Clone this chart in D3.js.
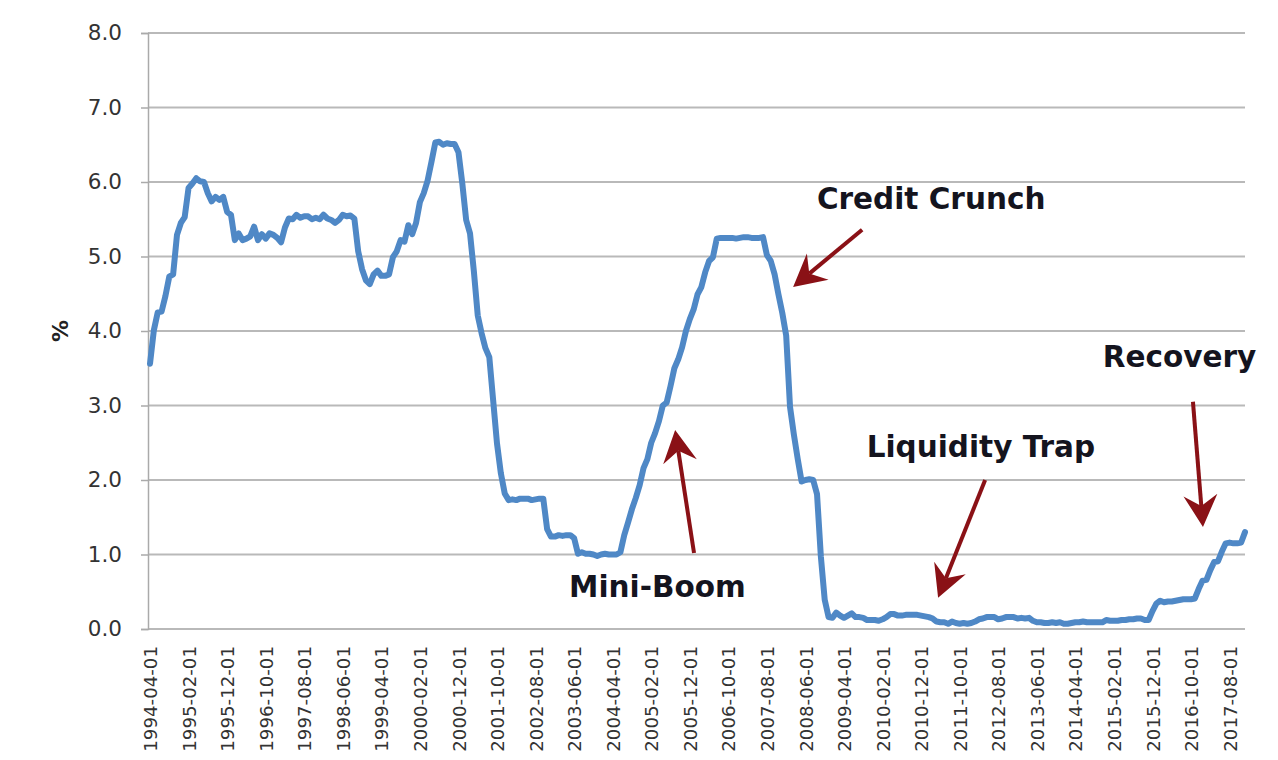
<!DOCTYPE html>
<html><head><meta charset="utf-8">
<script src="https://cdn.jsdelivr.net/npm/d3@7"></script>
<style>body{margin:0;background:#fff}svg{display:block}</style>
</head><body><svg id="c" width="1278" height="760"></svg>
<script>
// Monthly rate (%) from 1994-04 to 2017-12
const startYear = 1994, startMonth = 4;
const r1994 = [3.56,4.01,4.25,4.26,4.47,4.73,4.76,5.29,5.45];
const r1995 = [5.53,5.92,5.98,6.05,6.01,6.00,5.85,5.74,5.80,5.76,5.80,5.60];
const r1996 = [5.56,5.22,5.31,5.22,5.24,5.27,5.40,5.22,5.30,5.24,5.31,5.29];
const r1997 = [5.25,5.19,5.39,5.51,5.50,5.56,5.52,5.54,5.54,5.50,5.52,5.50];
const r1998 = [5.56,5.51,5.49,5.45,5.49,5.56,5.54,5.55,5.51,5.07,4.83,4.68];
const r1999 = [4.63,4.76,4.81,4.74,4.74,4.76,4.99,5.07,5.22,5.20,5.42,5.30];
const r2000 = [5.45,5.73,5.85,6.02,6.27,6.53,6.54,6.50,6.52,6.51,6.51,6.40];
const r2001 = [5.98,5.49,5.31,4.80,4.21,3.97,3.77,3.65,3.07,2.49,2.09,1.82];
const r2002 = [1.73,1.74,1.73,1.75,1.75,1.75,1.73,1.74,1.75,1.75,1.34,1.24];
const r2003 = [1.24,1.26,1.25,1.26,1.26,1.22,1.01,1.03,1.01,1.01,1.00,0.98];
const r2004 = [1.00,1.01,1.00,1.00,1.00,1.03,1.26,1.43,1.61,1.76,1.93,2.16];
const r2005 = [2.28,2.50,2.63,2.79,3.00,3.04,3.26,3.50,3.62,3.78,4.00,4.16];
const r2006 = [4.29,4.49,4.59,4.79,4.94,4.99,5.24,5.25,5.25,5.25,5.25,5.24];
const r2007 = [5.25,5.26,5.26,5.25,5.25,5.25,5.26,5.02,4.94,4.76,4.49,4.24];
const r2008 = [3.94,2.98,2.61,2.28,1.98,2.00,2.01,2.00,1.81,0.97,0.39,0.16];
const r2009 = [0.15,0.22,0.18,0.15,0.18,0.21,0.16,0.16,0.15,0.12,0.12,0.12];
const r2010 = [0.11,0.13,0.16,0.20,0.20,0.18,0.18,0.19,0.19,0.19,0.19,0.18];
const r2011 = [0.17,0.16,0.14,0.10,0.09,0.09,0.07,0.10,0.08,0.07,0.08,0.07];
const r2012 = [0.08,0.10,0.13,0.14,0.16,0.16,0.16,0.13,0.14,0.16,0.16,0.16];
const r2013 = [0.14,0.15,0.14,0.15,0.11,0.09,0.09,0.08,0.08,0.09,0.08,0.09];
const r2014 = [0.07,0.07,0.08,0.09,0.09,0.10,0.09,0.09,0.09,0.09,0.09,0.12];
const r2015 = [0.11,0.11,0.11,0.12,0.12,0.13,0.13,0.14,0.14,0.12,0.12,0.24];
const r2016 = [0.34,0.38,0.36,0.37,0.37,0.38,0.39,0.40,0.40,0.40,0.41,0.54];
const r2017 = [0.65,0.66,0.79,0.90,0.91,1.04,1.15,1.16,1.15,1.15,1.16,1.30];

const yTicks = [0,1,2,3,4,5,6,7,8];
const labelEvery = 10;
const yLabel = "%";

// Annotations in data units (month index, value)
const annoTexts = ["Credit Crunch","Mini-Boom","Liquidity Trap","Recovery"];
const annoTextAt = [[202.6,5.64],[131.6,0.43],[215.5,2.31],[267.0,3.52]];
const arrowTail = [[184.7,5.36],[141.1,1.02],[216.6,2.00],[270.5,3.05]];
const arrowTip  = [[166.8,4.59],[136.2,2.67],[204.4,0.42],[273.1,1.37]];

const rates = [].concat(r1994,r1995,r1996,r1997,r1998,r1999,r2000,r2001,r2002,r2003,r2004,r2005,
  r2006,r2007,r2008,r2009,r2010,r2011,r2012,r2013,r2014,r2015,r2016,r2017);
const months = rates.map((_, i) => {
  const m = startMonth - 1 + i;
  return `${startYear + Math.floor(m / 12)}-${String(m % 12 + 1).padStart(2, "0")}-01`;
});

const svg = d3.select("#c");
const pLeft = 148, pRight = 1245, pTop = 33, pBottom = 629;

const x = d3.scalePoint().domain(months).range([150, 1245]);
const xi = d3.scaleLinear().domain([0, months.length - 1]).range([150, 1245]);
const y = d3.scaleLinear().domain([0, 8]).range([pBottom, pTop]);

// gridlines
svg.append("g").selectAll("line").data(yTicks).join("line")
  .attr("x1", pLeft).attr("x2", pRight)
  .attr("y1", d => y(d)).attr("y2", d => y(d))
  .attr("stroke", "#b9b9b9").attr("stroke-width", 2);

// y axis
const yAxis = svg.append("g").attr("transform", `translate(${pLeft},0)`)
  .call(d3.axisLeft(y).tickValues(yTicks).tickFormat(d3.format(".1f")).tickSize(7).tickPadding(19));
yAxis.select(".domain").attr("stroke", "#aaa").attr("stroke-width", 1.5);
yAxis.selectAll(".tick line").attr("stroke", "#aaa").attr("stroke-width", 1.5);
yAxis.selectAll("text").attr("font-family", "DejaVu Sans").attr("font-size", 21.5).attr("fill", "#333");

svg.append("text").attr("transform", `translate(60,331) rotate(-90)`)
  .attr("text-anchor", "middle").attr("dy", "0.35em")
  .attr("font-family", "DejaVu Sans").attr("font-weight", "bold").attr("font-size", 22)
  .attr("fill", "#222").text(yLabel);

// x axis
const xAxis = svg.append("g").attr("transform", `translate(0,${pBottom})`)
  .call(d3.axisBottom(x).tickValues(months.filter((d, i) => i % labelEvery === 0)).tickSize(0));
xAxis.select(".domain").remove();
xAxis.selectAll("text")
  .attr("transform", "rotate(-90)")
  .attr("text-anchor", "end").attr("x", -17).attr("y", 0).attr("dy", "0.36em")
  .attr("font-family", "DejaVu Sans").attr("font-size", 18.2).attr("fill", "#333");

// line
svg.append("path").datum(rates)
  .attr("fill", "none").attr("stroke", "#4f88c6").attr("stroke-width", 6)
  .attr("stroke-linejoin", "round").attr("stroke-linecap", "round")
  .attr("d", d3.line().x((d, i) => x(months[i])).y(d => y(d)));

// arrows
const arrowColor = "#8a1116";
arrowTail.forEach((t, k) => {
  const x1 = xi(t[0]), y1 = y(t[1]);
  const x2 = xi(arrowTip[k][0]), y2 = y(arrowTip[k][1]);
  const dx = x2 - x1, dy = y2 - y1, L = Math.hypot(dx, dy);
  const ux = dx / L, uy = dy / L, px = -uy, py = ux;
  const hl = 32, hw = 17, notch = 11;
  const bx = x2 - ux * hl, by = y2 - uy * hl;
  svg.append("line").attr("x1", x1).attr("y1", y1)
    .attr("x2", x2 - ux * (hl - notch)).attr("y2", y2 - uy * (hl - notch))
    .attr("stroke", arrowColor).attr("stroke-width", 4);
  const pts = [[x2, y2], [bx + px * hw, by + py * hw], [x2 - ux * (hl - notch), y2 - uy * (hl - notch)], [bx - px * hw, by - py * hw]];
  svg.append("path").attr("d", "M" + pts.map(p => p.join(",")).join("L") + "Z").attr("fill", arrowColor);
});

// annotation texts
svg.append("g").selectAll("text").data(annoTexts).join("text")
  .attr("x", (d, i) => xi(annoTextAt[i][0])).attr("y", (d, i) => y(annoTextAt[i][1]))
  .attr("text-anchor", "middle")
  .attr("font-family", "DejaVu Sans").attr("font-weight", "bold").attr("font-size", 29.5)
  .attr("fill", "#14141e").text(d => d);
</script></body></html>
